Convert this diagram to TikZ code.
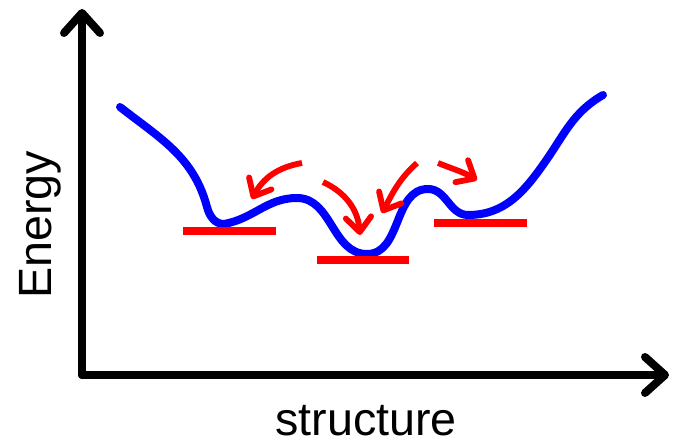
\documentclass[tikz,border=0pt]{standalone}
\usepackage{fontspec}
\setmainfont{Liberation Sans}
\usetikzlibrary{arrows.meta, positioning, calc}
\definecolor{landblue}{HTML}{0000FF}
\definecolor{landred}{HTML}{FF0000}
\tikzset{
  axisline/.style={line width=6pt, line cap=round, -{Straight Barb[round, length=15pt, width=27pt]}},
  landscape/.style={landblue, line width=6pt, line cap=round},
  basin/.style={landred, line width=5.5pt},
  hop/.style={landred, line width=4.4pt, -{Straight Barb[round, length=11pt, width=19pt]}},
  axislabel/.style={font=\fontsize{35}{40}\selectfont}
}

\begin{document}
\begin{tikzpicture}[x=0.75pt, y=0.75pt]
    \useasboundingbox (0,0) rectangle (673,445);

    % Axes
    \coordinate (origin) at (82,70);
    \coordinate (ytip) at (82,436);
    \coordinate (xtip) at (669,70);
    \draw[axisline] (origin) -- (ytip);
    \draw[axisline] (origin) -- (xtip);
    \node[axislabel, rotate=90] (energy) at (40,220) {Energy};
    \node[axislabel] (structure) at (366,24) {structure};

    % Energy landscape
    \coordinate (start) at (120,338);
    \coordinate (minA) at (224,221);
    \coordinate (topA) at (297,247);
    \coordinate (minB) at (367,191);
    \coordinate (topB) at (428,256);
    \coordinate (minC) at (468,230);
    \coordinate (end) at (603,350);
    \draw[landscape] (start) to[out=-38, in=105] (207,238) to[out=-75, in=180] (minA)
        to[out=10, in=180] (topA) to[out=0, in=180] (minB) to[out=0, in=180] (topB)
        to[out=0, in=180] (minC) to[out=0, in=-125] (545,283) to[out=55, in=-150] (end);

    % Local minima
    \draw[basin] (183,214) -- (276,214);
    \draw[basin] (317,185) -- (409,185);
    \draw[basin] (434,222) -- (527,222);

    % Transitions
    \draw[hop] (302,282) to[out=190, in=62] (252,246);
    \draw[hop] (323,263) to[out=-25, in=95] (360,210);
    \draw[hop] (417,282) to[out=222, in=62] (382,232);
    \draw[hop] (438,282) to[out=-22, in=150] (477,265);
\end{tikzpicture}
\end{document}
